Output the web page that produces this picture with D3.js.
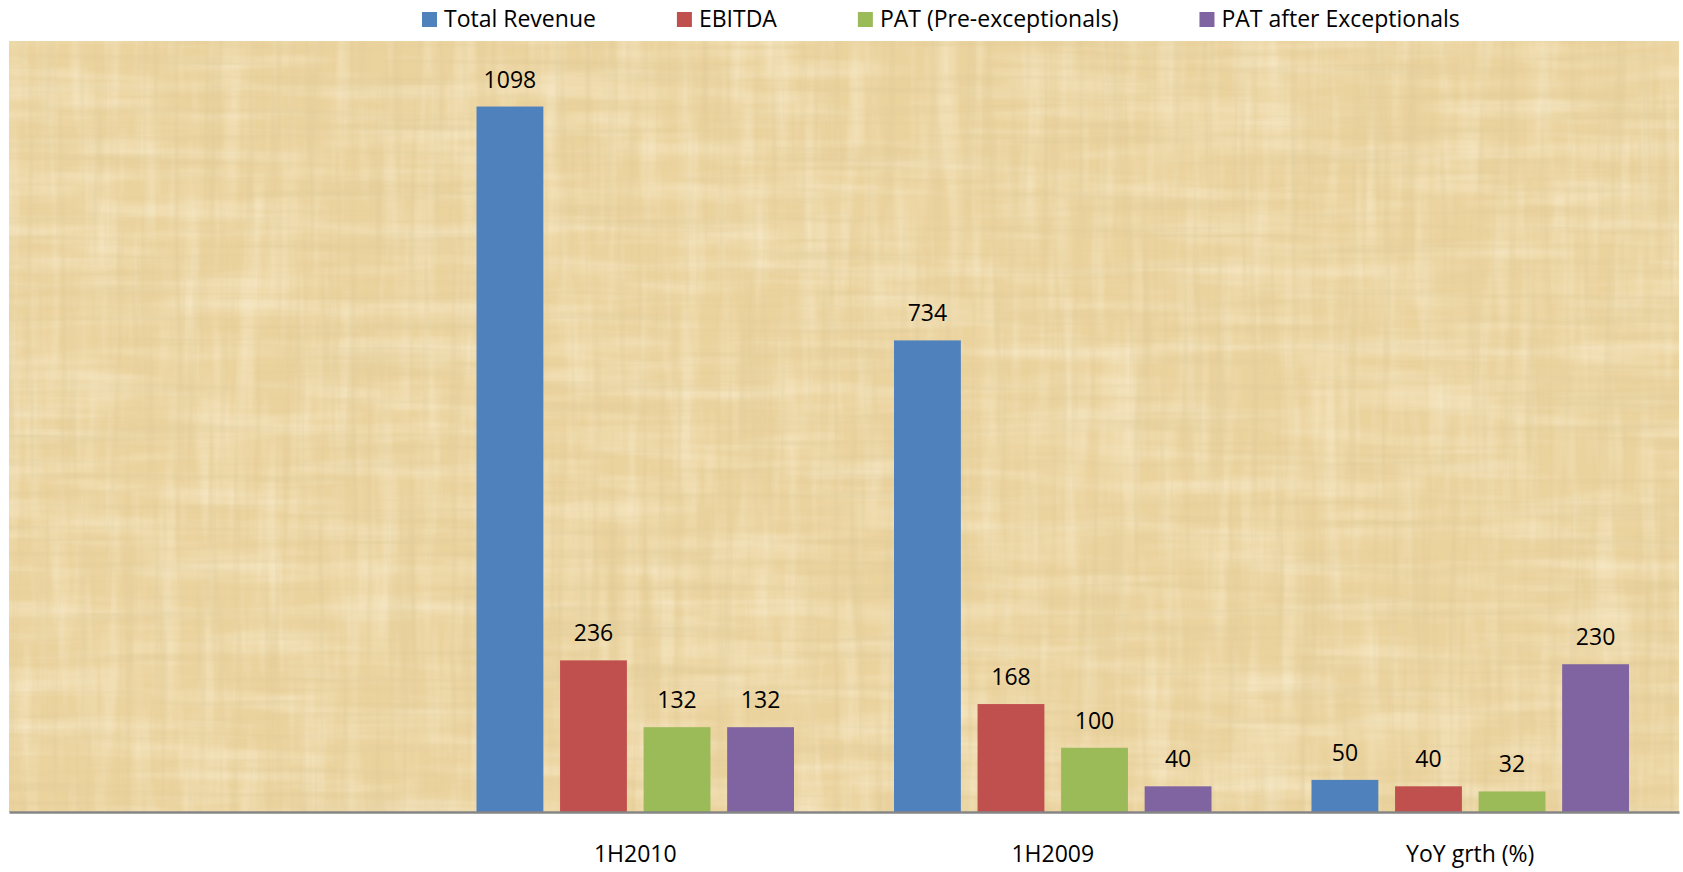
<!DOCTYPE html>
<html>
<head>
<meta charset="utf-8">
<script src="https://cdn.jsdelivr.net/npm/d3@7"></script>
<style>
	html, body { margin: 0; padding: 0; background: #fff; }
	svg { display: block; font-family: "Open Sans", sans-serif; }
</style>
</head>
<body>
<script>
// chart data
var categories = ['', '1H2010', '1H2009', 'YoY grth (%)'];
var seriesNames = ['Total Revenue', 'EBITDA', 'PAT (Pre-exceptionals)', 'PAT after Exceptionals'];
var totalRevenue = [null, 1098, 734, 50];
var ebitda = [null, 236, 168, 40];
var patPre = [null, 132, 100, 32];
var patAfter = [null, 132, 40, 230];
var yTicks = [0, 200, 400, 600, 800, 1000, 1200];

var seriesValues = [totalRevenue, ebitda, patPre, patAfter];
var colors = ['#4F81BD', '#C0504D', '#9BBB59', '#8064A2'];

var width = 1683;
var height = 872;
var plot = {left: 9, right: 1679, top: 41, bottom: 812};
var fontSize = 23;
var font = '"Open Sans", sans-serif';

var svg = d3.select('body').append('svg')
	.attr('width', width)
	.attr('height', height);

var defs = svg.append('defs');

// papyrus-ish texture for the plot area
function fibreFilter(id, freq, seed, matrix) {
	var f = defs.append('filter')
		.attr('id', id)
		.attr('x', 0).attr('y', 0).attr('width', 1).attr('height', 1);
	f.append('feTurbulence')
		.attr('type', 'fractalNoise')
		.attr('baseFrequency', freq)
		.attr('numOctaves', 3)
		.attr('seed', seed);
	f.append('feColorMatrix')
		.attr('type', 'matrix')
		.attr('values', matrix);
}
// dark streaks, horizontal and vertical
fibreFilter('fibresH', '0.004 0.12', 4, '0 0 0 0 0.72  0 0 0 0 0.58  0 0 0 0 0.3  1.0 0 0 0 -0.47');
fibreFilter('fibresV', '0.12 0.004', 11, '0 0 0 0 0.72  0 0 0 0 0.58  0 0 0 0 0.3  1.0 0 0 0 -0.47');
// light streaks
fibreFilter('lightH', '0.006 0.05', 23, '0 0 0 0 1  0 0 0 0 0.95  0 0 0 0 0.8  -0.8 0 0 0 0.45');
fibreFilter('lightV', '0.05 0.006', 31, '0 0 0 0 1  0 0 0 0 0.95  0 0 0 0 0.8  -0.8 0 0 0 0.45');

var plotG = svg.append('g');
['', 'lightH', 'lightV', 'fibresH', 'fibresV'].forEach(function(f) {
	var r = plotG.append('rect')
		.attr('x', plot.left).attr('y', plot.top)
		.attr('width', plot.right - plot.left)
		.attr('height', plot.bottom - plot.top);
	if (f) r.attr('filter', 'url(#' + f + ')');
	else r.attr('fill', '#EBD39E');
});

// scales
var x0 = d3.scaleBand()
	.domain(categories)
	.range([plot.left, plot.right]);

var groupPad = 50;
var x1 = d3.scaleBand()
	.domain(seriesNames)
	.range([groupPad, x0.bandwidth() - groupPad])
	.paddingInner(0.2);

var y = d3.scaleLinear()
	.domain([0, d3.max(yTicks)])
	.range([plot.bottom, plot.top]);

// bars
var rows = [];
categories.forEach(function(c, ci) {
	seriesNames.forEach(function(s, si) {
		var v = seriesValues[si][ci];
		if (v == null) return;
		rows.push({cat: c, series: s, value: v, color: colors[si]});
	});
});

var barG = svg.append('g');
barG.selectAll('rect')
	.data(rows)
	.enter().append('rect')
	.attr('x', function(d) { return x0(d.cat) + x1(d.series); })
	.attr('y', function(d) { return y(d.value); })
	.attr('width', x1.bandwidth())
	.attr('height', function(d) { return y(0) - y(d.value); })
	.attr('fill', function(d) { return d.color; });

barG.selectAll('text')
	.data(rows)
	.enter().append('text')
	.attr('x', function(d) { return x0(d.cat) + x1(d.series) + x1.bandwidth() / 2; })
	.attr('y', function(d) { return y(d.value) - 19; })
	.attr('text-anchor', 'middle')
	.attr('font-size', fontSize)
	.attr('fill', '#000')
	.text(function(d) { return d.value; });

// category axis
var xAxis = d3.axisBottom(x0).tickSize(0).tickPadding(34);
var axisG = svg.append('g')
	.attr('transform', 'translate(0,' + plot.bottom + ')')
	.call(xAxis);
axisG.select('.domain')
	.attr('stroke', '#868686')
	.attr('stroke-width', 2.5);
axisG.selectAll('text')
	.attr('font-family', font)
	.attr('font-size', fontSize)
	.attr('fill', '#000');

// legend
var legend = svg.append('g');
var lx = 422;
seriesNames.forEach(function(s, i) {
	var item = legend.append('g').attr('transform', 'translate(' + lx + ',0)');
	item.append('rect')
		.attr('x', 0).attr('y', 12)
		.attr('width', 15).attr('height', 15)
		.attr('fill', colors[i]);
	var t = item.append('text')
		.attr('x', 22).attr('y', 27)
		.attr('font-size', fontSize)
		.attr('fill', '#000')
		.text(s);
	lx += 22 + t.node().getComputedTextLength() + 81;
});
</script>
</body>
</html>
